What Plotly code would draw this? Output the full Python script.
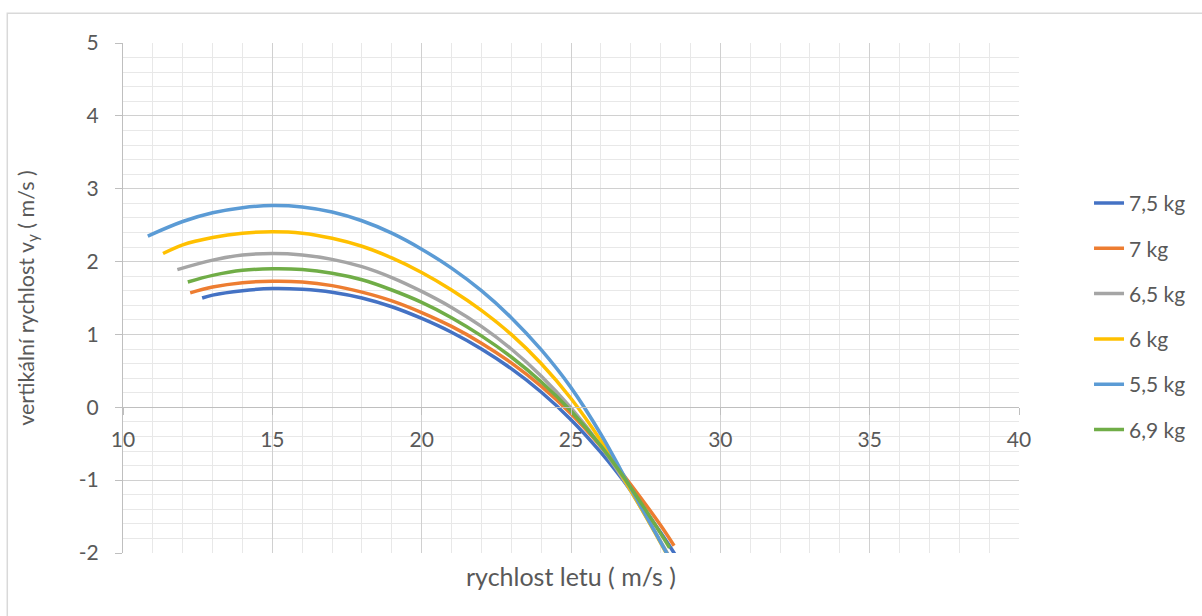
import plotly.graph_objects as go

# rychlost letu (m/s) and vertical speed v_y (m/s) for each model mass
names = ["7,5 kg", "7 kg", "6,5 kg", "6 kg", "5,5 kg", "6,9 kg"]
colors = ["#4472C4", "#ED7D31", "#A5A5A5", "#FFC000", "#5B9BD5", "#70AD47"]

v_75 = [12.65, 13, 14, 15, 16, 17, 18, 19, 20, 21, 22, 23, 24, 25, 26, 27, 28, 28.5]
vy_75 = [1.50, 1.54, 1.60, 1.63, 1.62, 1.58, 1.50, 1.38, 1.22, 1.03, 0.80, 0.53, 0.21, -0.17, -0.62, -1.14, -1.72, -2.03]

v_70 = [12.25, 13, 14, 15, 16, 17, 18, 19, 20, 21, 22, 23, 24, 25, 26, 27, 28, 28.45]
vy_70 = [1.57, 1.65, 1.71, 1.73, 1.72, 1.67, 1.58, 1.46, 1.30, 1.11, 0.88, 0.61, 0.29, -0.09, -0.54, -1.06, -1.62, -1.90]

v_65 = [11.82, 13, 14, 15, 16, 17, 18, 19, 20, 21, 22, 23, 24, 25, 26, 27, 28, 28.4]
vy_65 = [1.89, 2.02, 2.09, 2.11, 2.09, 2.03, 1.93, 1.78, 1.59, 1.37, 1.11, 0.80, 0.43, -0.01, -0.53, -1.15, -1.84, -2.13]

v_60 = [11.34, 12, 13, 14, 15, 16, 17, 18, 19, 20, 21, 22, 23, 24, 25, 26, 27, 28, 28.4]
vy_60 = [2.11, 2.23, 2.33, 2.39, 2.41, 2.39, 2.32, 2.21, 2.05, 1.85, 1.61, 1.33, 1.00, 0.60, 0.12, -0.46, -1.14, -1.86, -2.16]

v_55 = [10.83, 12, 13, 14, 15, 16, 17, 18, 19, 20, 21, 22, 23, 24, 25, 26, 27, 28, 28.4]
vy_55 = [2.35, 2.55, 2.67, 2.74, 2.77, 2.75, 2.68, 2.56, 2.39, 2.17, 1.91, 1.60, 1.23, 0.79, 0.27, -0.37, -1.11, -1.85, -2.15]

v_69 = [12.17, 13, 14, 15, 16, 17, 18, 19, 20, 21, 22, 23, 24, 25, 26, 27, 28, 28.3]
vy_69 = [1.72, 1.81, 1.88, 1.90, 1.89, 1.84, 1.75, 1.61, 1.44, 1.23, 0.98, 0.69, 0.35, -0.05, -0.53, -1.10, -1.73, -1.93]

series_v = [v_75, v_70, v_65, v_60, v_55, v_69]
series_vy = [vy_75, vy_70, vy_65, vy_60, vy_55, vy_69]

x_range = [10, 40]
y_range = [-2, 5]
y_ticks = [-2, -1, 0, 1, 2, 3, 4, 5]
y_ticktext = ["-2", "-1", "0", "1", "2", "3", "4", "5"]

FONT = "Lato"
TEXT = "#595959"

fig = go.Figure()
for name, color, xs, ys in zip(names, colors, series_v, series_vy):
    fig.add_trace(go.Scatter(
        x=xs, y=ys, name=name, mode="lines", legendgroup=name,
        line=dict(color=color, width=3.5, shape="spline", smoothing=1.0),
    ))

# plot area in pixels, used to place the frame and titles in paper units
L, R, T, B = 123.3, 1020.0, 43.3, 552.7
W, H = R - L, B - T
px_x = lambda p: (p - L) / W
px_y = lambda p: (B - p) / H

fig.update_layout(
    width=1202, height=616,
    margin=dict(l=L, r=1202 - R, t=T, b=616 - B, pad=0),
    paper_bgcolor="white", plot_bgcolor="white",
    font=dict(family=FONT, size=21, color=TEXT),
    showlegend=True,
    legend=dict(
        x=px_x(1089), xanchor="left", y=px_y(183), yanchor="top",
        bgcolor="rgba(0,0,0,0)", tracegroupgap=15,
        font=dict(family=FONT, size=21, color=TEXT),
    ),
    xaxis=dict(
        range=x_range, dtick=5, tick0=10,
        anchor="free", position=(0 - y_range[0]) / (y_range[1] - y_range[0]),
        showline=True, linecolor="#bfbfbf", linewidth=1.3,
        ticks="outside", ticklen=7, tickcolor="#bfbfbf", tickwidth=1.3,
        ticklabelstandoff=6,
        showgrid=True, gridcolor="#d0d0d0", gridwidth=1.2,
        minor=dict(dtick=1, ticks="", ticklen=0, showgrid=True,
                   gridcolor="#e8e8e8", gridwidth=1.2),
        zeroline=False,
        tickfont=dict(family=FONT, size=21, color=TEXT),
    ),
    yaxis=dict(
        range=y_range, tickmode="array", tickvals=y_ticks, ticktext=y_ticktext,
        domain=[0, 1],
        showline=True, linecolor="#bfbfbf", linewidth=1.3,
        ticks="outside", ticklen=7, tickcolor="#bfbfbf", tickwidth=1.3,
        ticklabelstandoff=12,
        showgrid=True, gridcolor="#d0d0d0", gridwidth=1.2,
        minor=dict(dtick=0.2, ticks="", ticklen=0, showgrid=True,
                   gridcolor="#e8e8e8", gridwidth=1.2),
        zeroline=False,
        tickfont=dict(family=FONT, size=21, color=TEXT),
    ),
    shapes=[dict(
        type="rect", xref="paper", yref="paper",
        x0=px_x(7.5), x1=px_x(1215), y0=px_y(630), y1=px_y(13.5),
        line=dict(color="#d9d9d9", width=1.5), fillcolor="rgba(0,0,0,0)",
        layer="below",
    )],
    annotations=[
        dict(text="vertikální rychlost v<sub>y</sub> ( m/s )",
             xref="paper", yref="paper", x=px_x(28), y=px_y(298),
             xanchor="center", yanchor="middle", textangle=-90, showarrow=False,
             font=dict(family=FONT, size=21.5, color=TEXT)),
        dict(text="rychlost letu ( m/s )",
             xref="paper", yref="paper", x=px_x(571.5), y=px_y(576),
             xanchor="center", yanchor="middle", showarrow=False,
             font=dict(family=FONT, size=25, color=TEXT)),
    ],
)

fig.write_html("out.html")
